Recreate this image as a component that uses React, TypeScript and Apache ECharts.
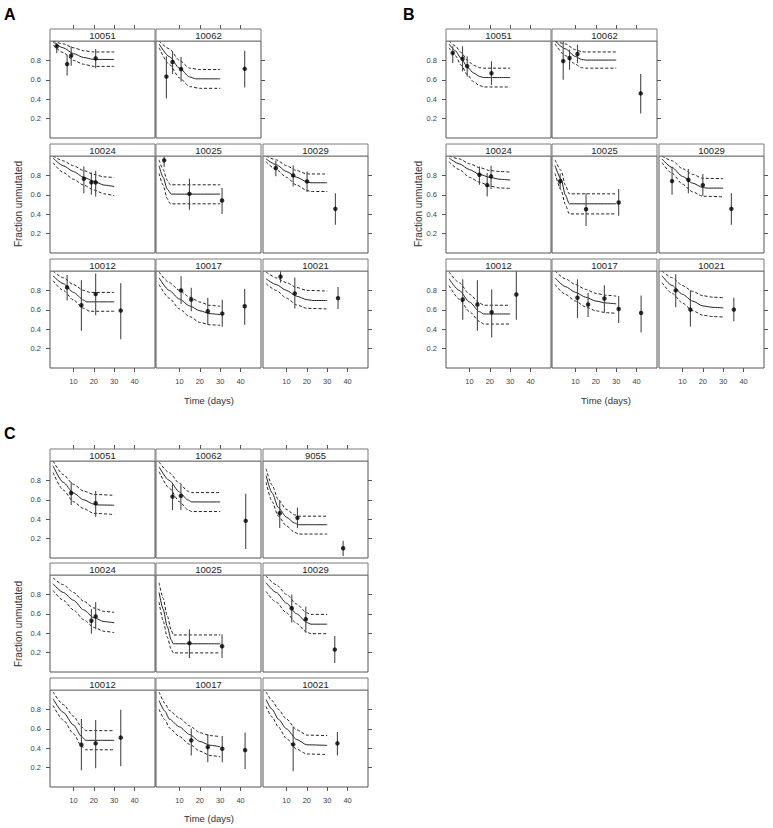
import React, { useEffect, useRef } from "react";
import * as echarts from "echarts";

type Pt = [number, number];
type Obs = [number, number, number, number]; // x, y, lower, upper

// ---------- axis ticks ----------
const X_TICKS = [10, 20, 30, 40];
const Y_TICKS = [0.2, 0.4, 0.6, 0.8];

// ---------- Figure A ----------
const A10051_fit: Pt[] = [[0, 0.99], [5, 0.93], [10, 0.87], [15, 0.83], [20, 0.81], [30, 0.81]];
const A10051_hi: Pt[] = [[0, 1.0], [5, 0.97], [10, 0.93], [15, 0.9], [20, 0.887], [30, 0.887]];
const A10051_lo: Pt[] = [[0, 0.96], [5, 0.88], [10, 0.8], [15, 0.76], [20, 0.738], [30, 0.738]];
const A10051_obs: Obs[] = [[1.8, 0.946, 0.876, 0.98], [6.9, 0.762, 0.644, 0.859], [8.9, 0.849, 0.745, 0.946], [20.9, 0.821, 0.72, 0.918]];

const A10062_fit: Pt[] = [[0, 0.97], [5, 0.84], [10, 0.72], [15, 0.63], [18, 0.61], [30, 0.61]];
const A10062_hi: Pt[] = [[0, 1.0], [5, 0.92], [10, 0.8], [15, 0.72], [20, 0.706], [30, 0.706]];
const A10062_lo: Pt[] = [[0, 0.93], [5, 0.76], [10, 0.62], [15, 0.53], [20, 0.512], [30, 0.512]];
const A10062_obs: Obs[] = [[3.6, 0.633, 0.408, 0.842], [6.6, 0.783, 0.661, 0.894], [10.8, 0.71, 0.58, 0.835], [42, 0.713, 0.52, 0.9]];

const A10024_fit: Pt[] = [[0, 0.98], [5, 0.9], [10, 0.84], [15, 0.78], [20, 0.74], [25, 0.7], [30, 0.685]];
const A10024_hi: Pt[] = [[0, 1.0], [5, 0.95], [10, 0.9], [15, 0.85], [20, 0.81], [25, 0.785], [30, 0.778]];
const A10024_lo: Pt[] = [[0, 0.93], [5, 0.83], [10, 0.76], [15, 0.7], [20, 0.65], [25, 0.61], [30, 0.59]];
const A10024_obs: Obs[] = [[15.1, 0.766, 0.617, 0.893], [18.8, 0.728, 0.6, 0.831], [20.9, 0.728, 0.583, 0.848]];

const A10025_fit: Pt[] = [[0, 0.9], [2, 0.78], [4, 0.66], [6, 0.607], [30, 0.607]];
const A10025_hi: Pt[] = [[0, 0.96], [2, 0.86], [4, 0.75], [5.5, 0.703], [30, 0.703]];
const A10025_lo: Pt[] = [[0, 0.82], [2, 0.7], [4, 0.56], [5.5, 0.507], [30, 0.507]];
const A10025_obs: Obs[] = [[2.5, 0.955, 0.886, 0.997], [14.9, 0.61, 0.445, 0.766], [30.9, 0.541, 0.403, 0.669]];

const A10029_fit: Pt[] = [[0, 0.97], [5, 0.91], [10, 0.84], [15, 0.78], [20, 0.735], [22, 0.724], [30, 0.724]];
const A10029_hi: Pt[] = [[0, 1.0], [5, 0.96], [10, 0.9], [15, 0.85], [20, 0.815], [30, 0.814]];
const A10029_lo: Pt[] = [[0, 0.94], [5, 0.86], [10, 0.78], [15, 0.7], [20, 0.645], [22, 0.634], [30, 0.634]];
const A10029_obs: Obs[] = [[4.8, 0.876, 0.79, 0.952], [13.3, 0.8, 0.686, 0.903], [20.1, 0.738, 0.628, 0.841], [34, 0.455, 0.29, 0.617]];

const A10012_fit: Pt[] = [[0, 0.95], [5, 0.87], [10, 0.78], [15, 0.7], [16.5, 0.682], [30, 0.682]];
const A10012_hi: Pt[] = [[0, 1.0], [5, 0.93], [10, 0.86], [15, 0.8], [18, 0.779], [30, 0.779]];
const A10012_lo: Pt[] = [[0, 0.9], [5, 0.8], [10, 0.7], [15, 0.615], [18, 0.585], [30, 0.585]];
const A10012_obs: Obs[] = [[6.9, 0.831, 0.696, 0.96], [13.9, 0.647, 0.384, 0.904], [20.9, 0.762, 0.543, 0.973], [33.2, 0.592, 0.297, 0.873]];

const A10017_fit: Pt[] = [[0, 0.93], [5, 0.8], [10, 0.71], [15, 0.64], [20, 0.59], [25, 0.56], [30, 0.55]];
const A10017_hi: Pt[] = [[0, 0.99], [5, 0.88], [10, 0.8], [15, 0.73], [20, 0.68], [25, 0.645], [30, 0.637]];
const A10017_lo: Pt[] = [[0, 0.86], [5, 0.72], [10, 0.61], [15, 0.53], [20, 0.47], [25, 0.445], [30, 0.44]];
const A10017_obs: Obs[] = [[10.8, 0.8, 0.661, 0.946], [15.8, 0.706, 0.585, 0.828], [23.9, 0.585, 0.446, 0.724], [31.0, 0.561, 0.425, 0.703], [42, 0.637, 0.446, 0.817]];

const A10021_fit: Pt[] = [[0, 0.92], [5, 0.86], [10, 0.8], [15, 0.74], [20, 0.705], [23, 0.696], [30, 0.696]];
const A10021_hi: Pt[] = [[0, 0.99], [5, 0.93], [10, 0.88], [15, 0.83], [20, 0.8], [30, 0.793]];
const A10021_lo: Pt[] = [[0, 0.87], [5, 0.8], [10, 0.72], [15, 0.65], [20, 0.615], [30, 0.609]];
const A10021_obs: Obs[] = [[7.1, 0.942, 0.88, 1.0], [14.1, 0.769, 0.613, 0.932], [35.3, 0.72, 0.609, 0.835]];

// ---------- Figure B ----------
const B10051_fit: Pt[] = [[0, 0.97], [3, 0.9], [6, 0.82], [9, 0.73], [12, 0.67], [15, 0.635], [17, 0.623], [30, 0.623]];
const B10051_hi: Pt[] = [[0, 1.0], [3, 0.95], [6, 0.88], [9, 0.8], [12, 0.75], [15, 0.725], [17, 0.72], [30, 0.72]];
const B10051_lo: Pt[] = [[0, 0.93], [3, 0.85], [6, 0.75], [9, 0.65], [12, 0.58], [15, 0.54], [17, 0.526], [30, 0.526]];
const B10051_obs: Obs[] = [[1.8, 0.876, 0.772, 0.946], [6.6, 0.817, 0.686, 0.946], [8.9, 0.741, 0.633, 0.842], [20.8, 0.668, 0.547, 0.79]];

const B10062_fit: Pt[] = [[0, 1.0], [5, 0.92], [10, 0.84], [13, 0.81], [15, 0.803], [30, 0.803]];
const B10062_hi: Pt[] = [[0, 1.0], [5, 0.97], [10, 0.91], [13, 0.89], [15, 0.887], [30, 0.887]];
const B10062_lo: Pt[] = [[0, 0.97], [5, 0.85], [10, 0.76], [13, 0.725], [15, 0.72], [30, 0.72]];
const B10062_obs: Obs[] = [[4.0, 0.793, 0.6, 0.998], [7.1, 0.824, 0.703, 0.911], [11.0, 0.866, 0.772, 0.963], [42, 0.46, 0.252, 0.661]];

const B10024_fit: Pt[] = [[0, 0.98], [5, 0.92], [10, 0.86], [15, 0.81], [20, 0.78], [25, 0.76], [30, 0.752]];
const B10024_hi: Pt[] = [[0, 1.0], [5, 0.97], [10, 0.92], [15, 0.88], [20, 0.85], [25, 0.84], [30, 0.834]];
const B10024_lo: Pt[] = [[0, 0.94], [5, 0.86], [10, 0.78], [15, 0.73], [20, 0.69], [25, 0.67], [30, 0.666]];
const B10024_obs: Obs[] = [[14.9, 0.807, 0.703, 0.893], [18.7, 0.7, 0.583, 0.824], [20.6, 0.79, 0.659, 0.9]];

const B10025_fit: Pt[] = [[0, 0.9], [3, 0.76], [5, 0.6], [7, 0.507], [30, 0.507]];
const B10025_hi: Pt[] = [[0, 0.96], [3, 0.85], [5, 0.7], [7, 0.61], [30, 0.61]];
const B10025_lo: Pt[] = [[0, 0.82], [3, 0.65], [5, 0.5], [7, 0.403], [30, 0.403]];
const B10025_obs: Obs[] = [[2.5, 0.74, 0.66, 0.82], [15.2, 0.452, 0.279, 0.617], [31.2, 0.521, 0.383, 0.659]];

const B10029_fit: Pt[] = [[0, 0.97], [5, 0.88], [10, 0.79], [15, 0.72], [20, 0.675], [22, 0.669], [30, 0.669]];
const B10029_hi: Pt[] = [[0, 1.0], [5, 0.95], [10, 0.87], [15, 0.81], [20, 0.77], [30, 0.766]];
const B10029_lo: Pt[] = [[0, 0.93], [5, 0.82], [10, 0.71], [15, 0.63], [20, 0.585], [30, 0.579]];
const B10029_obs: Obs[] = [[4.9, 0.741, 0.6, 0.893], [12.9, 0.755, 0.617, 0.866], [20, 0.7, 0.59, 0.814], [34, 0.455, 0.29, 0.617]];

const B10012_fit: Pt[] = [[0, 0.92], [5, 0.8], [10, 0.68], [15, 0.58], [17, 0.557], [30, 0.557]];
const B10012_hi: Pt[] = [[0, 0.99], [5, 0.88], [10, 0.76], [15, 0.67], [17, 0.647], [30, 0.647]];
const B10012_lo: Pt[] = [[0, 0.85], [5, 0.71], [10, 0.58], [15, 0.48], [17, 0.453], [30, 0.453]];
const B10012_obs: Obs[] = [[6.7, 0.706, 0.498, 0.914], [13.9, 0.654, 0.384, 0.904], [20.9, 0.575, 0.314, 0.81], [33.0, 0.758, 0.498, 1.0]];

const B10017_fit: Pt[] = [[0, 0.93], [5, 0.84], [10, 0.78], [15, 0.73], [20, 0.69], [25, 0.67], [30, 0.661]];
const B10017_hi: Pt[] = [[0, 1.0], [5, 0.92], [10, 0.86], [15, 0.81], [20, 0.77], [25, 0.75], [30, 0.741]];
const B10017_lo: Pt[] = [[0, 0.86], [5, 0.76], [10, 0.69], [15, 0.63], [20, 0.59], [25, 0.57], [30, 0.564]];
const B10017_obs: Obs[] = [[11.0, 0.724, 0.516, 0.914], [16.2, 0.654, 0.526, 0.776], [24.2, 0.717, 0.578, 0.852], [31.2, 0.609, 0.464, 0.741], [42.2, 0.568, 0.366, 0.748]];

const B10021_fit: Pt[] = [[0, 0.95], [5, 0.85], [10, 0.76], [15, 0.69], [20, 0.64], [25, 0.625], [30, 0.62]];
const B10021_hi: Pt[] = [[0, 1.0], [5, 0.93], [10, 0.85], [15, 0.79], [20, 0.745], [25, 0.73], [30, 0.724]];
const B10021_lo: Pt[] = [[0, 0.88], [5, 0.77], [10, 0.67], [15, 0.59], [20, 0.545], [25, 0.53], [30, 0.526]];
const B10021_obs: Obs[] = [[6.7, 0.8, 0.627, 0.966], [13.9, 0.602, 0.429, 0.8], [35.2, 0.602, 0.481, 0.724]];

// ---------- Figure C ----------
const C10051_fit: Pt[] = [[0, 0.95], [5, 0.78], [10, 0.67], [15, 0.6], [20, 0.555], [22, 0.547], [30, 0.544]];
const C10051_hi: Pt[] = [[0, 1.0], [5, 0.86], [10, 0.76], [15, 0.69], [20, 0.655], [30, 0.646]];
const C10051_lo: Pt[] = [[0, 0.88], [5, 0.7], [10, 0.58], [15, 0.51], [20, 0.46], [30, 0.448]];
const C10051_obs: Obs[] = [[8.9, 0.67, 0.547, 0.783], [20.9, 0.565, 0.425, 0.69]];

const C10062_fit: Pt[] = [[0, 0.94], [5, 0.8], [10, 0.68], [14, 0.6], [16, 0.578], [30, 0.578]];
const C10062_hi: Pt[] = [[0, 0.99], [5, 0.88], [10, 0.77], [14, 0.69], [16, 0.674], [30, 0.674]];
const C10062_lo: Pt[] = [[0, 0.89], [5, 0.72], [10, 0.58], [14, 0.5], [16, 0.479], [30, 0.479]];
const C10062_obs: Obs[] = [[6.6, 0.633, 0.493, 0.759], [10.7, 0.64, 0.496, 0.759], [42.5, 0.383, 0.093, 0.663]];

const C9055_fit: Pt[] = [[0, 0.85], [3, 0.67], [6, 0.52], [10, 0.42], [14, 0.36], [16, 0.343], [30, 0.343]];
const C9055_hi: Pt[] = [[0, 0.92], [3, 0.75], [6, 0.6], [10, 0.5], [14, 0.445], [16, 0.431], [30, 0.431]];
const C9055_lo: Pt[] = [[0, 0.78], [3, 0.58], [6, 0.43], [10, 0.33], [14, 0.265], [16, 0.247], [30, 0.247]];
const C9055_obs: Obs[] = [[6.7, 0.462, 0.309, 0.595], [15.4, 0.414, 0.309, 0.52], [37.8, 0.1, 0.02, 0.179]];

const C10024_fit: Pt[] = [[0, 0.91], [5, 0.82], [10, 0.74], [15, 0.64], [20, 0.56], [25, 0.52], [30, 0.507]];
const C10024_hi: Pt[] = [[0, 0.97], [5, 0.9], [10, 0.82], [15, 0.73], [20, 0.66], [25, 0.625], [30, 0.615]];
const C10024_lo: Pt[] = [[0, 0.84], [5, 0.74], [10, 0.64], [15, 0.54], [20, 0.46], [25, 0.42], [30, 0.406]];
const C10024_obs: Obs[] = [[18.8, 0.528, 0.395, 0.65], [20.9, 0.573, 0.44, 0.72]];

const C10025_fit: Pt[] = [[0, 0.82], [2, 0.65], [4, 0.47], [6, 0.33], [7, 0.291], [30, 0.291]];
const C10025_hi: Pt[] = [[0, 0.92], [2, 0.76], [4, 0.58], [6, 0.43], [7, 0.382], [30, 0.382]];
const C10025_lo: Pt[] = [[0, 0.72], [2, 0.53], [4, 0.36], [6, 0.23], [7, 0.197], [30, 0.197]];
const C10025_obs: Obs[] = [[14.9, 0.298, 0.144, 0.441], [30.9, 0.266, 0.144, 0.388]];

const C10029_fit: Pt[] = [[0, 0.92], [5, 0.82], [10, 0.71], [15, 0.6], [20, 0.51], [22, 0.493], [30, 0.493]];
const C10029_hi: Pt[] = [[0, 0.99], [5, 0.9], [10, 0.8], [15, 0.7], [20, 0.61], [22, 0.594], [30, 0.594]];
const C10029_lo: Pt[] = [[0, 0.83], [5, 0.72], [10, 0.61], [15, 0.5], [20, 0.41], [22, 0.395], [30, 0.395]];
const C10029_obs: Obs[] = [[12.6, 0.657, 0.51, 0.8], [19.5, 0.545, 0.406, 0.674], [33.7, 0.231, 0.092, 0.371]];

const C10012_fit: Pt[] = [[0, 0.91], [5, 0.77], [10, 0.64], [14, 0.52], [16, 0.481], [30, 0.481]];
const C10012_hi: Pt[] = [[0, 0.98], [5, 0.85], [10, 0.73], [14, 0.62], [16, 0.581], [30, 0.581]];
const C10012_lo: Pt[] = [[0, 0.84], [5, 0.69], [10, 0.55], [14, 0.42], [16, 0.384], [30, 0.384]];
const C10012_obs: Obs[] = [[13.9, 0.436, 0.172, 0.7], [20.9, 0.45, 0.193, 0.692], [33.2, 0.509, 0.214, 0.797]];

const C10017_fit: Pt[] = [[0, 0.89], [3, 0.78], [5, 0.7], [10, 0.62], [15, 0.54], [20, 0.47], [25, 0.43], [30, 0.415]];
const C10017_hi: Pt[] = [[0, 0.98], [3, 0.86], [5, 0.79], [10, 0.71], [15, 0.63], [20, 0.56], [25, 0.53], [30, 0.519]];
const C10017_lo: Pt[] = [[0, 0.8], [3, 0.69], [5, 0.61], [10, 0.52], [15, 0.44], [20, 0.37], [25, 0.325], [30, 0.311]];
const C10017_obs: Obs[] = [[15.8, 0.481, 0.325, 0.602], [23.9, 0.411, 0.255, 0.543], [31, 0.394, 0.255, 0.526], [42.2, 0.38, 0.186, 0.561]];

const C10021_fit: Pt[] = [[0, 0.9], [3, 0.8], [6, 0.7], [10, 0.6], [15, 0.49], [20, 0.435], [30, 0.429]];
const C10021_hi: Pt[] = [[0, 0.98], [3, 0.89], [6, 0.8], [10, 0.7], [15, 0.59], [20, 0.535], [30, 0.53]];
const C10021_lo: Pt[] = [[0, 0.83], [3, 0.72], [6, 0.62], [10, 0.5], [15, 0.39], [20, 0.34], [30, 0.335]];
const C10021_obs: Obs[] = [[13.3, 0.439, 0.162, 0.623], [35, 0.45, 0.325, 0.568]];

// ---------- panel assembly ----------
type Panel = { fig: "A" | "B" | "C"; row: number; col: number; id: string; fit: Pt[]; hi: Pt[]; lo: Pt[]; obs: Obs[]; right: boolean };

const PANELS: Panel[] = [
  { fig: "A", row: 0, col: 0, id: "10051", fit: A10051_fit, hi: A10051_hi, lo: A10051_lo, obs: A10051_obs, right: false },
  { fig: "A", row: 0, col: 1, id: "10062", fit: A10062_fit, hi: A10062_hi, lo: A10062_lo, obs: A10062_obs, right: true },
  { fig: "A", row: 1, col: 0, id: "10024", fit: A10024_fit, hi: A10024_hi, lo: A10024_lo, obs: A10024_obs, right: false },
  { fig: "A", row: 1, col: 1, id: "10025", fit: A10025_fit, hi: A10025_hi, lo: A10025_lo, obs: A10025_obs, right: false },
  { fig: "A", row: 1, col: 2, id: "10029", fit: A10029_fit, hi: A10029_hi, lo: A10029_lo, obs: A10029_obs, right: true },
  { fig: "A", row: 2, col: 0, id: "10012", fit: A10012_fit, hi: A10012_hi, lo: A10012_lo, obs: A10012_obs, right: false },
  { fig: "A", row: 2, col: 1, id: "10017", fit: A10017_fit, hi: A10017_hi, lo: A10017_lo, obs: A10017_obs, right: false },
  { fig: "A", row: 2, col: 2, id: "10021", fit: A10021_fit, hi: A10021_hi, lo: A10021_lo, obs: A10021_obs, right: true },

  { fig: "B", row: 0, col: 0, id: "10051", fit: B10051_fit, hi: B10051_hi, lo: B10051_lo, obs: B10051_obs, right: false },
  { fig: "B", row: 0, col: 1, id: "10062", fit: B10062_fit, hi: B10062_hi, lo: B10062_lo, obs: B10062_obs, right: true },
  { fig: "B", row: 1, col: 0, id: "10024", fit: B10024_fit, hi: B10024_hi, lo: B10024_lo, obs: B10024_obs, right: false },
  { fig: "B", row: 1, col: 1, id: "10025", fit: B10025_fit, hi: B10025_hi, lo: B10025_lo, obs: B10025_obs, right: false },
  { fig: "B", row: 1, col: 2, id: "10029", fit: B10029_fit, hi: B10029_hi, lo: B10029_lo, obs: B10029_obs, right: true },
  { fig: "B", row: 2, col: 0, id: "10012", fit: B10012_fit, hi: B10012_hi, lo: B10012_lo, obs: B10012_obs, right: false },
  { fig: "B", row: 2, col: 1, id: "10017", fit: B10017_fit, hi: B10017_hi, lo: B10017_lo, obs: B10017_obs, right: false },
  { fig: "B", row: 2, col: 2, id: "10021", fit: B10021_fit, hi: B10021_hi, lo: B10021_lo, obs: B10021_obs, right: true },

  { fig: "C", row: 0, col: 0, id: "10051", fit: C10051_fit, hi: C10051_hi, lo: C10051_lo, obs: C10051_obs, right: false },
  { fig: "C", row: 0, col: 1, id: "10062", fit: C10062_fit, hi: C10062_hi, lo: C10062_lo, obs: C10062_obs, right: false },
  { fig: "C", row: 0, col: 2, id: "9055", fit: C9055_fit, hi: C9055_hi, lo: C9055_lo, obs: C9055_obs, right: true },
  { fig: "C", row: 1, col: 0, id: "10024", fit: C10024_fit, hi: C10024_hi, lo: C10024_lo, obs: C10024_obs, right: false },
  { fig: "C", row: 1, col: 1, id: "10025", fit: C10025_fit, hi: C10025_hi, lo: C10025_lo, obs: C10025_obs, right: false },
  { fig: "C", row: 1, col: 2, id: "10029", fit: C10029_fit, hi: C10029_hi, lo: C10029_lo, obs: C10029_obs, right: true },
  { fig: "C", row: 2, col: 0, id: "10012", fit: C10012_fit, hi: C10012_hi, lo: C10012_lo, obs: C10012_obs, right: false },
  { fig: "C", row: 2, col: 1, id: "10017", fit: C10017_fit, hi: C10017_hi, lo: C10017_lo, obs: C10017_obs, right: false },
  { fig: "C", row: 2, col: 2, id: "10021", fit: C10021_fit, hi: C10021_hi, lo: C10021_lo, obs: C10021_obs, right: true },
];

// ---------- layout ----------
const FONT = '"Liberation Sans", Arial, Helvetica, sans-serif';
const PW = 105;
const PH = 97;
const STRIP = 12;
const LAYOUT: Record<string, { cols: number[]; rows: number[] }> = {
  A: { cols: [50, 156, 263], rows: [41, 156, 271] },
  B: { cols: [446, 552, 659], rows: [41, 156, 271] },
  C: { cols: [50, 156, 263], rows: [461, 575, 690] },
};
const XMIN = -1.5;
const XMAX = 50;
const YMIN = 0;
const YMAX = 1.0;
const BORDER = "#555";
const STRIP_BORDER = "#7a7a7a";
const TICK_LEN = 4;

function buildOption() {
  const grid: any[] = [];
  const xAxis: any[] = [];
  const yAxis: any[] = [];
  const series: any[] = [];
  const graphic: any[] = [];

  PANELS.forEach((p) => {
    const L = LAYOUT[p.fig];
    const left = L.cols[p.col];
    const top = L.rows[p.row];
    const gi = grid.length;
    grid.push({ left, top, width: PW, height: PH, show: true, borderColor: BORDER, borderWidth: 1, backgroundColor: "#fff", containLabel: false });

    const bottomRow = p.row === 2;
    const firstCol = p.col === 0;

    const xi = xAxis.length;
    xAxis.push({
      gridIndex: gi, type: "value", min: XMIN, max: XMAX, position: "bottom",
      axisLine: { show: false, onZero: false }, splitLine: { show: false },
      axisTick: { show: bottomRow, length: TICK_LEN, customValues: X_TICKS, lineStyle: { color: BORDER, width: 1 } },
      axisLabel: { show: bottomRow, customValues: X_TICKS, fontSize: 7.5, color: "#444", margin: 9, fontFamily: FONT },
    });
    if (p.row === 0) {
      xAxis.push({
        gridIndex: gi, type: "value", min: XMIN, max: XMAX, position: "top", offset: STRIP,
        axisLine: { show: false, onZero: false }, splitLine: { show: false }, axisLabel: { show: false },
        axisTick: { show: true, length: TICK_LEN, customValues: X_TICKS, lineStyle: { color: BORDER, width: 1 } },
      });
    }
    const yi = yAxis.length;
    yAxis.push({
      gridIndex: gi, type: "value", min: YMIN, max: YMAX, position: "left",
      axisLine: { show: false, onZero: false }, splitLine: { show: false },
      axisTick: { show: firstCol, length: TICK_LEN, customValues: Y_TICKS, lineStyle: { color: BORDER, width: 1 } },
      axisLabel: { show: firstCol, customValues: Y_TICKS, fontSize: 7.5, color: "#444", margin: 9, fontFamily: FONT, formatter: (v: number) => v.toFixed(1) },
    });
    if (p.right) {
      yAxis.push({
        gridIndex: gi, type: "value", min: YMIN, max: YMAX, position: "right",
        axisLine: { show: false, onZero: false }, splitLine: { show: false }, axisLabel: { show: false },
        axisTick: { show: true, length: TICK_LEN, customValues: Y_TICKS, lineStyle: { color: BORDER, width: 1 } },
      });
    }

    const lineBase = { type: "line", xAxisIndex: xi, yAxisIndex: yi, symbol: "none", showSymbol: false, silent: true, smooth: 0.25, smoothMonotone: "x", z: 3 };
    series.push({ ...lineBase, data: p.fit, lineStyle: { color: "#222", width: 1 } });
    series.push({ ...lineBase, data: p.hi, lineStyle: { color: "#222", width: 1, type: [3, 2] } });
    series.push({ ...lineBase, data: p.lo, lineStyle: { color: "#222", width: 1, type: [3, 2] } });
    series.push({
      type: "custom", xAxisIndex: xi, yAxisIndex: yi, silent: true, z: 4,
      data: p.obs.map((o) => [o[0], o[2], o[3]]),
      encode: { x: 0, y: [1, 2] },
      renderItem: (_params: any, api: any) => {
        const a = api.coord([api.value(0), api.value(1)]);
        const b = api.coord([api.value(0), api.value(2)]);
        return { type: "line", shape: { x1: a[0], y1: a[1], x2: b[0], y2: b[1] }, style: { stroke: "#4a4a4a", lineWidth: 1.1 } };
      },
    });
    series.push({
      type: "scatter", xAxisIndex: xi, yAxisIndex: yi, silent: true, z: 5,
      data: p.obs.map((o) => [o[0], o[1]]),
      symbol: "circle", symbolSize: 4.5, itemStyle: { color: "#000" },
    });

    graphic.push({
      type: "rect", shape: { x: left, y: top - STRIP, width: PW, height: STRIP },
      style: { fill: "#fff", stroke: STRIP_BORDER, lineWidth: 1 }, z: 10,
    });
    graphic.push({
      type: "text", x: left + PW / 2, y: top - STRIP / 2 + 0.5, z: 11,
      style: { text: p.id, textAlign: "center", textVerticalAlign: "middle", fontSize: 9.5, fill: "#222", fontFamily: FONT },
    });
  });

  // figure letters and axis titles
  const letters: [string, number, number][] = [["A", 4, 14], ["B", 403, 14], ["C", 4, 433]];
  letters.forEach(([t, x, y]) => {
    graphic.push({ type: "text", x, y, style: { text: t, fontSize: 16, fontWeight: "bold", fill: "#000", fontFamily: FONT, textVerticalAlign: "middle" } });
  });
  const yTitles: [number, number][] = [[18, 204], [418, 204], [18, 624]];
  yTitles.forEach(([x, y]) => {
    graphic.push({ type: "text", x, y, rotation: Math.PI / 2, style: { text: "Fraction unmutated", fontSize: 10, fill: "#333", fontFamily: FONT, textAlign: "center", textVerticalAlign: "middle" } });
  });
  const xTitles: [number, number][] = [[209, 400], [606, 400], [209, 818]];
  xTitles.forEach(([x, y]) => {
    graphic.push({ type: "text", x, y, style: { text: "Time (days)", fontSize: 9.5, fill: "#333", fontFamily: FONT, textAlign: "center", textVerticalAlign: "middle" } });
  });

  return { animation: false, backgroundColor: "#fff", grid, xAxis, yAxis, series, graphic };
}

export default function App() {
  const ref = useRef<HTMLDivElement>(null);
  useEffect(() => {
    if (!ref.current) return;
    const chart = echarts.init(ref.current, undefined, { renderer: "svg" });
    chart.setOption(buildOption() as any);
    return () => chart.dispose();
  }, []);
  return <div ref={ref} style={{ position: "absolute", left: 0, top: 0, width: 773, height: 828, background: "#fff" }} />;
}
